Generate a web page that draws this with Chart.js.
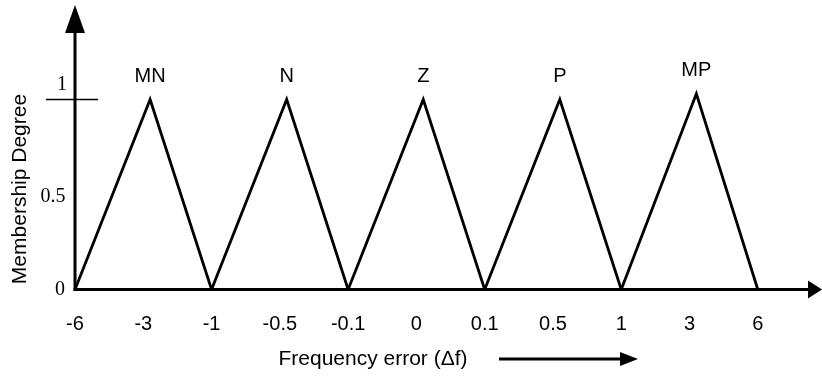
<!DOCTYPE html>
<html>
<head>
<meta charset="utf-8">
<script src="https://cdn.jsdelivr.net/npm/chart.js@4/dist/chart.umd.min.js"></script>
<style>
  body { margin: 0; background: #fff; }
  #wrap { width: 822px; height: 380px; }
</style>
</head>
<body>
<div id="wrap"><canvas id="memberChart" width="822" height="380"></canvas></div>
<script>
// x axis is drawn on evenly spaced positions, one per tick label
const tickLabels = ['-6', '-3', '-1', '-0.5', '-0.1', '0', '0.1', '0.5', '1', '3', '6'];
const yTickValues = [0, 0.5, 1];
const yTickLabels = ['0', '0.5', '1'];

// fuzzy sets: left foot, peak, right foot (in tick positions) and peak degree
const setNames = ['MN', 'N', 'Z', 'P', 'MP'];
const footLeft = [0, 2, 4, 6, 8];
const peakPos = [1.1, 3.1, 5.1, 7.1, 9.1];
const footRight = [2, 4, 6, 8, 10];
const peakDegree = [1, 1, 1, 1, 1.03];

const datasets = setNames.map((name, i) => ({
    label: name,
    data: [
        { x: footLeft[i], y: 0 },
        { x: peakPos[i], y: peakDegree[i] },
        { x: footRight[i], y: 0 }
    ],
    borderColor: '#000',
    borderWidth: 2.8,
    borderJoinStyle: 'miter',
    pointRadius: 0,
    fill: false,
    tension: 0
}));

function arrowHead(ctx, tipX, tipY, dir, len, half) {
    ctx.beginPath();
    if (dir === 'right') {
        ctx.moveTo(tipX, tipY);
        ctx.lineTo(tipX - len, tipY - half);
        ctx.lineTo(tipX - len, tipY + half);
    } else {
        ctx.moveTo(tipX, tipY);
        ctx.lineTo(tipX - half, tipY + len);
        ctx.lineTo(tipX + half, tipY + len);
    }
    ctx.closePath();
    ctx.fill();
}

const axesPlugin = {
    id: 'axesPlugin',
    afterDraw(chart) {
        const ctx = chart.ctx;
        const xs = chart.scales.x, ys = chart.scales.y;
        const area = chart.chartArea;
        const x0 = xs.getPixelForValue(0);
        const y0 = ys.getPixelForValue(0);
        ctx.save();
        ctx.strokeStyle = '#000';
        ctx.fillStyle = '#000';
        ctx.lineWidth = 3;

        // y axis with arrow
        ctx.beginPath();
        ctx.moveTo(x0, y0 + 1.5);
        ctx.lineTo(x0, area.top + 20);
        ctx.stroke();
        arrowHead(ctx, x0, area.top, 'up', 28, 10);

        // x axis with arrow
        ctx.beginPath();
        ctx.moveTo(x0 - 1.5, y0);
        ctx.lineTo(area.right - 10, y0);
        ctx.stroke();
        arrowHead(ctx, area.right, y0, 'right', 14, 9);

        // tick mark at degree 1
        const y1 = ys.getPixelForValue(1);
        ctx.lineWidth = 1.5;
        ctx.beginPath();
        ctx.moveTo(x0 - 29, y1);
        ctx.lineTo(x0 + 23, y1);
        ctx.stroke();

        // y tick labels
        ctx.font = '20px "Liberation Serif", "Times New Roman", serif';
        ctx.textAlign = 'center';
        yTickValues.forEach((v, i) => {
            const py = ys.getPixelForValue(v);
            if (v === 1) {
                ctx.textBaseline = 'alphabetic';
                ctx.fillText(yTickLabels[i], x0 - 13, py - 9);
            } else if (v === 0) {
                ctx.textBaseline = 'middle';
                ctx.fillText(yTickLabels[i], x0 - 15, py);
            } else {
                ctx.textBaseline = 'middle';
                ctx.fillText(yTickLabels[i], x0 - 22, py + 2);
            }
        });

        // x tick labels
        ctx.font = '20px "Liberation Sans", Arial, sans-serif';
        ctx.textBaseline = 'middle';
        tickLabels.forEach((t, i) => {
            ctx.fillText(t, xs.getPixelForValue(i), y0 + 35);
        });

        // set names above peaks
        setNames.forEach((name, i) => {
            const px = xs.getPixelForValue(peakPos[i]);
            const py = ys.getPixelForValue(peakDegree[i]);
            ctx.fillText(name, px, py - 23);
        });

        // y title
        ctx.font = '21px "Liberation Sans", Arial, sans-serif';
        ctx.save();
        ctx.translate(20, 189);
        ctx.rotate(-Math.PI / 2);
        ctx.textAlign = 'center';
        ctx.textBaseline = 'middle';
        ctx.fillText('Membership Degree', 0, 0);
        ctx.restore();

        // x title with arrow
        ctx.textAlign = 'center';
        ctx.textBaseline = 'middle';
        ctx.fillText('Frequency error (\u0394f)', 373, 359);
        ctx.lineWidth = 3;
        ctx.beginPath();
        ctx.moveTo(499, 359);
        ctx.lineTo(625, 359);
        ctx.stroke();
        arrowHead(ctx, 638, 359, 'right', 18, 7);

        ctx.restore();
    }
};

new Chart(document.getElementById('memberChart').getContext('2d'), {
    type: 'line',
    data: { datasets: datasets },
    options: {
        responsive: false,
        animation: false,
        layout: { padding: { left: 75, right: 0, top: 5, bottom: 90.5 } },
        plugins: { legend: { display: false }, tooltip: { enabled: false } },
        scales: {
            x: { type: 'linear', min: 0, max: 10.94, display: false },
            y: { type: 'linear', min: 0, max: 1.497, display: false }
        }
    },
    plugins: [axesPlugin]
});
</script>
</body>
</html>
